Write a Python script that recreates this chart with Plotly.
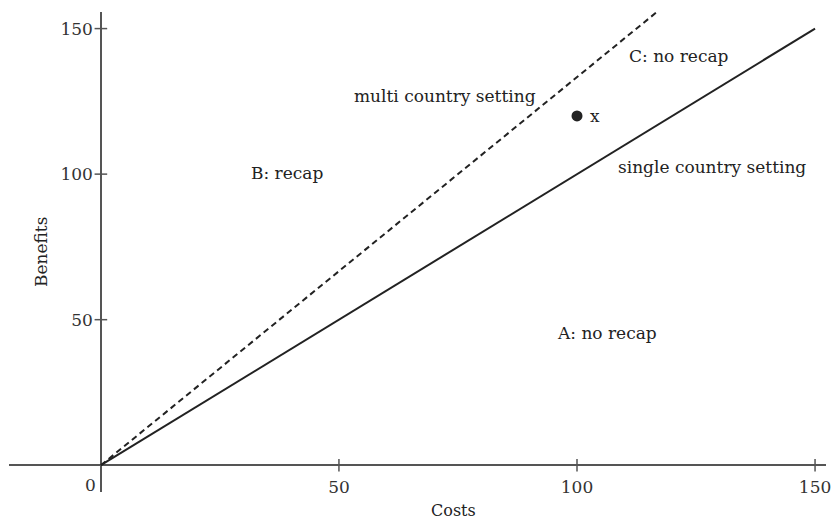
import plotly.graph_objects as go

# Data
single_costs = [0, 150]
single_benefits = [0, 150]
multi_costs = [0, 117.3]
multi_benefits = [0, 156.4]
point_costs = [100]
point_benefits = [120]
x_ticks = [50, 100, 150]
y_ticks = [50, 100, 150]

labels_text = ["multi country setting", "B: recap", "C: no recap", "x",
               "single country setting", "A: no recap"]
labels_x = [72.3, 39, 121.4, 103.8, 128.4, 106.3]
labels_y = [127, 100.3, 140.5, 120, 102.4, 45.4]

FONT = "DejaVu Serif"
INK = "#222222"
AXIS = "#555555"

x_range = [-19.3, 152.3]
y_range = [-9.2, 155.7]

fig = go.Figure()

fig.add_trace(go.Scatter(x=multi_costs, y=multi_benefits, mode="lines",
                         line=dict(color=INK, width=2, dash="6px,4px"),
                         hoverinfo="skip", showlegend=False))
fig.add_trace(go.Scatter(x=single_costs, y=single_benefits, mode="lines",
                         line=dict(color=INK, width=2),
                         hoverinfo="skip", showlegend=False))
fig.add_trace(go.Scatter(x=point_costs, y=point_benefits, mode="markers",
                         marker=dict(color=INK, size=11),
                         showlegend=False))
# crossing tick marks
fig.add_trace(go.Scatter(x=x_ticks, y=[0] * len(x_ticks), mode="markers",
                         marker=dict(symbol="line-ns", size=9,
                                     line=dict(color=AXIS, width=1.5)),
                         hoverinfo="skip", showlegend=False))
fig.add_trace(go.Scatter(x=[0] * len(y_ticks), y=y_ticks, mode="markers",
                         marker=dict(symbol="line-ew", size=9,
                                     line=dict(color=AXIS, width=1.5)),
                         hoverinfo="skip", showlegend=False))

for t, x, y in zip(labels_text, labels_x, labels_y):
    fig.add_annotation(x=x, y=y, text=t, showarrow=False,
                       font=dict(family=FONT, size=17, color=INK))

# "0" origin label
fig.add_annotation(x=0, y=0, text="0", showarrow=False, xanchor="right",
                   yanchor="top", xshift=-3, yshift=-8,
                   font=dict(family=FONT, size=17, color="#333333"))
# axis titles
fig.add_annotation(x=74, y=0, yref="paper", text="Costs", showarrow=False,
                   yanchor="middle", yshift=-18,
                   font=dict(family=FONT, size=16, color=INK))
fig.add_annotation(x=-12.6, y=73.2, text="Benefits", showarrow=False,
                   textangle=-90,
                   font=dict(family=FONT, size=17, color=INK))

xpos = (0 - y_range[0]) / (y_range[1] - y_range[0])
ypos = (0 - x_range[0]) / (x_range[1] - x_range[0])

fig.update_layout(
    width=836, height=521,
    margin=dict(l=9, r=10, t=12, b=29, autoexpand=False),
    plot_bgcolor="white", paper_bgcolor="white",
    xaxis=dict(range=x_range, showgrid=False, showline=False,
               zeroline=True, zerolinecolor=AXIS, zerolinewidth=2,
               tickvals=x_ticks, ticks="", anchor="free", position=xpos,
               ticklabelstandoff=10, automargin=False,
               tickfont=dict(family=FONT, size=17, color="#333333")),
    yaxis=dict(range=y_range, showgrid=False, showline=False,
               zeroline=True, zerolinecolor=AXIS, zerolinewidth=2,
               tickvals=y_ticks, ticks="", anchor="free", position=ypos,
               ticklabelstandoff=8, automargin=False,
               tickfont=dict(family=FONT, size=17, color="#333333")),
)

fig.write_html("out.html", config={"displayModeBar": False},
               post_script="document.body.style.margin='0';document.body.style.overflow='hidden';")
